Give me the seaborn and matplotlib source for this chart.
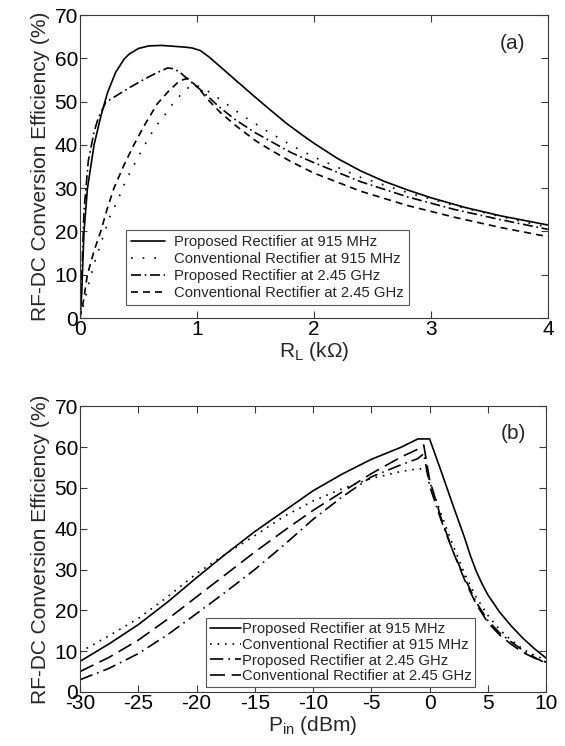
import numpy as np
import pandas as pd
import matplotlib
matplotlib.use("Agg")
import matplotlib.pyplot as plt
import seaborn as sns

# ---------------- data: panel (a) ----------------
rl_prop915 = [0, 0.014, 0.034, 0.063, 0.12, 0.177, 0.234, 0.305, 0.376, 0.42, 0.5, 0.59, 0.7, 0.8, 0.9,
              0.96, 1.03, 1.1, 1.19, 1.3, 1.47, 1.6, 1.76, 1.9, 2.0, 2.2, 2.4, 2.6, 2.8, 3.0, 3.3, 3.6, 4.0]
eff_prop915 = [0, 5.5, 19.8, 29.8, 40, 46.5, 52, 56.8, 59.8, 61.0, 62.3, 62.9, 63.0, 62.8, 62.6,
               62.4, 61.8, 60.4, 58.3, 55.7, 51.7, 48.7, 45.1, 42.3, 40.4, 36.9, 34.0, 31.6, 29.6, 27.8,
               25.5, 23.6, 21.5]

rl_conv915 = [0, 0.03, 0.07, 0.12, 0.2, 0.26, 0.32, 0.37, 0.43, 0.5, 0.57, 0.64, 0.73, 0.81, 0.92, 0.97,
              1.05, 1.2, 1.4, 1.6, 1.8, 2.0, 2.4, 2.8, 3.2, 3.6, 4.0]
eff_conv915 = [0, 3, 7.5, 12.5, 19, 23.8, 27, 30.4, 33.8, 37.3, 40.8, 44, 47.1, 50.2, 53.1, 54.0,
               53.2, 50.5, 46.6, 43.2, 40.0, 37.2, 32.5, 29.0, 26.0, 23.4, 21.0]

rl_prop245 = [0, 0.01, 0.034, 0.071, 0.12, 0.157, 0.22, 0.3, 0.42, 0.55, 0.65, 0.75, 0.8, 0.85, 0.93,
              1.05, 1.19, 1.33, 1.5, 1.62, 1.8, 2.0, 2.4, 2.8, 3.2, 3.6, 4.0]
eff_prop245 = [0, 5, 24.8, 36.3, 43, 46.3, 49.8, 51.2, 53.2, 55.2, 56.6, 57.8, 57.6, 56.9, 55.0,
               52.3, 48.8, 45.8, 42.8, 41.0, 38.3, 35.9, 31.5, 28.0, 25.1, 22.7, 20.5]

rl_conv245 = [0, 0.03, 0.063, 0.12, 0.177, 0.23, 0.29, 0.37, 0.46, 0.55, 0.66, 0.76, 0.85, 0.92, 1.0,
              1.1, 1.2, 1.33, 1.5, 1.62, 1.8, 2.0, 2.4, 2.8, 3.2, 3.6, 4.0]
eff_conv245 = [0, 4, 10, 15.5, 20, 25, 30, 35, 40, 44.5, 49.5, 52.5, 54.8, 55.4, 53.5,
               50.3, 47.5, 44.5, 41.0, 39.0, 36.2, 33.5, 29.3, 26.0, 23.3, 20.9, 18.8]

# ---------------- data: panel (b) ----------------
pin_prop915 = [-30, -27.5, -25, -22.5, -20, -17.5, -15, -12.5, -10, -7.5, -5, -2.5, -1, 0,
               1, 2, 3, 3.5, 4, 4.5, 5, 6, 7, 8, 9, 10]
effb_prop915 = [7.5, 11.8, 16.5, 22.0, 28.0, 33.8, 39.3, 44.3, 49.3, 53.4, 57.0, 59.9, 62.0, 62.0,
                54.0, 45.8, 37.8, 33.4, 29.6, 26.5, 23.8, 19.6, 16.2, 13.2, 10.6, 8.3]

pin_conv915 = [-30, -27.5, -25, -22.5, -20, -17.5, -15, -12.5, -10, -7.5, -5, -2.5, -1, -0.3,
               0, 1, 2, 3, 4, 5, 6, 7, 8, 9, 10]
effb_conv915 = [9.8, 13.8, 18.0, 23.3, 29.0, 33.8, 38.3, 43.0, 46.8, 49.8, 52.3, 54.0, 54.7, 54.5,
                51.5, 43.5, 36.0, 29.0, 23.2, 18.8, 15.3, 12.7, 10.5, 9.0, 7.8]

pin_prop245 = [-30, -27.5, -25, -22.5, -20, -17.5, -15, -12.5, -10, -7.5, -5, -2.5, -1, -0.5,
               0, 1, 2, 3, 4, 5, 6, 7, 8, 9, 10]
effb_prop245 = [3.0, 5.8, 9.4, 14.0, 19.2, 24.5, 30.0, 36.0, 42.3, 47.8, 52.7, 55.6, 57.2, 58.4,
                50.5, 42.0, 34.5, 28.0, 22.0, 17.5, 14.5, 12.3, 10.2, 8.5, 7.0]

pin_conv245 = [-30, -27.5, -25, -22.5, -20, -17.5, -15, -12.5, -10, -7.5, -5, -2.5, -1, -0.5,
               0, 1, 2, 3, 4, 5, 6, 7, 8, 9, 10]
effb_conv245 = [5.0, 8.5, 12.7, 17.8, 23.3, 28.8, 34.3, 39.5, 44.5, 49.0, 53.5, 57.5, 59.5, 60.5,
                52.0, 42.5, 34.5, 27.5, 21.5, 17.0, 14.0, 11.7, 9.7, 8.3, 7.3]

labels = ["Proposed Rectifier at 915 MHz", "Conventional Rectifier at 915 MHz",
          "Proposed Rectifier at 2.45 GHz", "Conventional Rectifier at 2.45 GHz"]

# ---------------- style ----------------
sns.set_theme(style="white")
plt.rcParams["font.family"] = ["Liberation Sans", "DejaVu Sans"]
plt.rcParams["mathtext.fontset"] = "custom"
plt.rcParams["mathtext.rm"] = "Liberation Sans"
plt.rcParams["mathtext.it"] = "Liberation Sans:italic"
plt.rcParams["mathtext.bf"] = "Liberation Sans:bold"
plt.rcParams["axes.unicode_minus"] = False

FS = 15
LFS = 10.7
LW = 1.2
frame_col = "#3a3a3a"

fig = plt.figure(figsize=(5.65, 7.46), dpi=100)
ax1 = fig.add_axes([0.1416, 0.5737, 0.828, 0.406])
ax2 = fig.add_axes([0.1416, 0.0724, 0.825, 0.383])

def draw(ax, x, y, label, dashes):
    df = pd.DataFrame({"x": x, "y": y})
    sns.lineplot(data=df, x="x", y="y", ax=ax, color="black", lw=LW, label=label,
                 sort=False, estimator=None)
    ln = ax.get_lines()[-1]
    if dashes is not None:
        ln.set_dashes(dashes)
    return ln

# panel (a)
draw(ax1, rl_prop915, eff_prop915, labels[0], None)
draw(ax1, rl_conv915, eff_conv915, labels[1], (1, 6))
draw(ax1, rl_prop245, eff_prop245, labels[2], (6, 2.2, 1, 2.2))
draw(ax1, rl_conv245, eff_conv245, labels[3], (4.2, 3))

# panel (b)
draw(ax2, pin_prop915, effb_prop915, labels[0], None)
draw(ax2, pin_conv915, effb_conv915, labels[1], (1, 3.5))
draw(ax2, pin_prop245, effb_prop245, labels[2], (8, 3, 1, 3))
draw(ax2, pin_conv245, effb_conv245, labels[3], (9, 4))

ax1.set_xlim(0, 4)
ax1.set_ylim(0, 70)
ax1.set_xticks([0, 1, 2, 3, 4])
ax1.set_yticks(np.arange(0, 71, 10))
ax1.set_xlabel(r"R$_\mathrm{L}$ (k$\Omega$)", fontsize=FS, labelpad=1)

ax2.set_xlim(-30, 10)
ax2.set_ylim(0, 70)
ax2.set_xticks(np.arange(-30, 11, 5))
ax2.set_yticks(np.arange(0, 71, 10))
ax2.set_xlabel(r"P$_\mathrm{in}$ (dBm)", fontsize=FS, labelpad=1)

for ax in (ax1, ax2):
    ax.set_ylabel("RF-DC Conversion Efficiency (%)", fontsize=FS, labelpad=3)
    ax.tick_params(direction="in", length=5, width=0.8, colors="black", color=frame_col,
                   labelsize=FS, top=True, right=True, bottom=True, left=True, pad=1.5)
    for sp in ax.spines.values():
        sp.set_visible(True)
        sp.set_color(frame_col)
        sp.set_linewidth(0.8)
    ax.grid(False)

ax1.text(3.70, 63.5, "(a)", fontsize=FS, ha="center", va="center")
ax2.text(7.2, 63.3, "(b)", fontsize=FS, ha="center", va="center")

leg1 = ax1.legend(loc="lower left", bbox_to_anchor=(0.098, 0.043), borderaxespad=0,
                  fontsize=LFS, handlelength=2.3, handletextpad=0.6, borderpad=0.35,
                  labelspacing=0.2, frameon=True, fancybox=False, shadow=False)
leg2 = ax2.legend(loc="lower left", bbox_to_anchor=(0.270, 0.017), borderaxespad=0,
                  fontsize=LFS, handlelength=2.1, handletextpad=0.05, borderpad=0.25,
                  labelspacing=0.12, frameon=True, fancybox=False, shadow=False)
for lg in (leg1, leg2):
    fr = lg.get_frame()
    fr.set_edgecolor("#555555")
    fr.set_linewidth(0.8)
    fr.set_alpha(1)
    fr.set_facecolor("white")

fig.savefig("out.png", dpi=100)
